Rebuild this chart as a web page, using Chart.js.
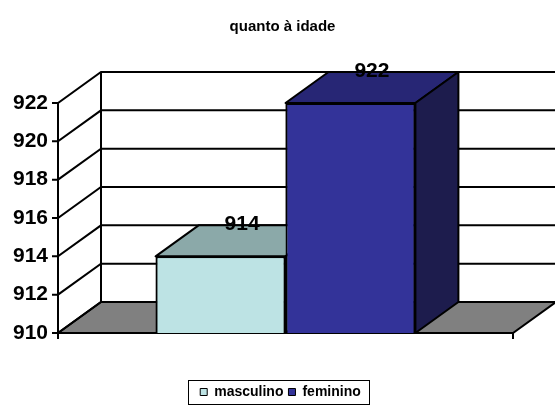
<!DOCTYPE html>
<html>
<head>
<meta charset="utf-8">
<script src="https://cdn.jsdelivr.net/npm/chart.js@4"></script>
<style>
  html, body { margin: 0; padding: 0; background: #fff; }
  #wrap { width: 555px; height: 406px; }
</style>
</head>
<body>
<div id="wrap"><canvas id="chart"></canvas></div>
<script>
// data
const categories = [""];
const seriesNames = ["masculino", "feminino"];
const masculino = [914];
const feminino = [922];
const yMin = 910, yMax = 922, yStep = 2;

// 3d look
const DX = 43, DY = -31;
const faceColors = ["#bde3e4", "#333399"];
const topColors = ["#8ba9a9", "#272675"];
const sideColors = ["#5f7b7c", "#1d1c4d"];

Chart.defaults.font.family = "'Liberation Sans', Arial, sans-serif";
Chart.defaults.color = "#000";

const box3d = {
  id: "box3d",
  afterLayout(chart) {
    // title and legend sit centred on the whole page, not on the plot
    chart.titleBlock.left += 26;
    chart.titleBlock.right += 26;
    chart.legend.left += 24;
    chart.legend.right += 24;
  },
  beforeDatasetsDraw(chart) {
    const ctx = chart.ctx;
    const { left, right, top, bottom } = chart.chartArea;
    const y = chart.scales.y;
    ctx.save();
    ctx.strokeStyle = "#000";
    ctx.lineWidth = 2;
    // floor
    ctx.beginPath();
    ctx.moveTo(left, bottom);
    ctx.lineTo(right, bottom);
    ctx.lineTo(right + DX, bottom + DY);
    ctx.lineTo(left + DX, bottom + DY);
    ctx.closePath();
    ctx.fillStyle = "#808080";
    ctx.fill();
    ctx.stroke();
    // grid on side and back wall
    for (let v = yMin; v <= yMax; v += yStep) {
      const yy = y.getPixelForValue(v);
      ctx.beginPath();
      ctx.moveTo(left - 6, yy);
      ctx.lineTo(left, yy);
      ctx.lineTo(left + DX, yy + DY);
      ctx.lineTo(right + DX, yy + DY);
      ctx.stroke();
    }
    ctx.beginPath();
    ctx.moveTo(left + DX, top + DY);
    ctx.lineTo(left + DX, bottom + DY);
    ctx.moveTo(left, top);
    ctx.lineTo(left, bottom + 6);
    ctx.moveTo(right, bottom);
    ctx.lineTo(right, bottom + 6);
    ctx.stroke();
    ctx.restore();
  },
  afterDatasetsDraw(chart) {
    const ctx = chart.ctx;
    const area = chart.chartArea;
    ctx.save();
    ctx.strokeStyle = "#000";
    ctx.lineWidth = 2;
    ctx.lineJoin = "round";
    // left to right so each bar covers the side of the one before it
    chart.data.datasets.forEach((ds, i) => {
      chart.getDatasetMeta(i).data.forEach((bar, j) => {
        const p = bar.getProps(["x", "y", "width"], true);
        const x0 = p.x - p.width / 2, x1 = p.x + p.width / 2;
        const b = area.bottom;
        // front face again
        ctx.save();
        ctx.beginPath();
        ctx.rect(area.left, area.top - 1, area.right - area.left, area.bottom - area.top + 1);
        ctx.clip();
        bar.draw(ctx);
        ctx.restore();
        // top
        ctx.beginPath();
        ctx.moveTo(x0, p.y);
        ctx.lineTo(x1, p.y);
        ctx.lineTo(x1 + DX, p.y + DY);
        ctx.lineTo(x0 + DX, p.y + DY);
        ctx.closePath();
        ctx.fillStyle = topColors[i];
        ctx.fill();
        ctx.stroke();
        // side
        ctx.beginPath();
        ctx.moveTo(x1, p.y);
        ctx.lineTo(x1 + DX, p.y + DY);
        ctx.lineTo(x1 + DX, b + DY);
        ctx.lineTo(x1, b);
        ctx.closePath();
        ctx.fillStyle = sideColors[i];
        ctx.fill();
        ctx.stroke();
        // value label
        ctx.fillStyle = "#000";
        ctx.font = "bold 21px 'Liberation Sans', Arial, sans-serif";
        ctx.textAlign = "center";
        ctx.textBaseline = "middle";
        ctx.fillText(ds.data[j], p.x + DX / 2, p.y + DY - 1);
      });
    });
    ctx.restore();
  },
  afterDraw(chart) {
    const hb = chart.legend.legendHitBoxes;
    if (!hb || !hb.length) return;
    const ctx = chart.ctx;
    const l = hb[0].left - 12;
    const r = hb[hb.length - 1].left + hb[hb.length - 1].width + 8;
    const t = hb[0].top - 5;
    const b = hb[0].top + hb[0].height + 5;
    ctx.save();
    ctx.strokeStyle = "#000";
    ctx.lineWidth = 1;
    ctx.strokeRect(Math.round(l) + 0.5, Math.round(t) + 0.5, Math.round(r - l), Math.round(b - t));
    ctx.restore();
  }
};

new Chart(document.getElementById("chart"), {
  type: "bar",
  data: {
    labels: categories,
    datasets: [
      { label: seriesNames[0], data: masculino, backgroundColor: faceColors[0], borderColor: "#000", borderWidth: 2 },
      { label: seriesNames[1], data: feminino, backgroundColor: faceColors[1], borderColor: "#000", borderWidth: 2 }
    ]
  },
  plugins: [box3d],
  options: {
    responsive: true,
    maintainAspectRatio: false,
    animation: false,
    layout: { padding: { left: 0, right: 42, top: 0, bottom: -3 } },
    datasets: { bar: { barPercentage: 1, categoryPercentage: 0.571 } },
    plugins: {
      tooltip: { enabled: false },
      title: {
        display: true,
        text: "quanto à idade",
        font: { size: 15, weight: "bold" },
        padding: { top: 18, bottom: 67 }
      },
      legend: {
        position: "bottom",
        labels: {
          boxWidth: 7,
          boxHeight: 7,
          padding: 5,
          font: { size: 14, weight: "bold" },
          generateLabels(chart) {
            const items = Chart.defaults.plugins.legend.labels.generateLabels(chart);
            items.forEach(it => { it.lineWidth = 1; it.strokeStyle = "#000"; });
            return items;
          }
        }
      }
    },
    scales: {
      x: {
        display: true,
        grid: { display: false },
        border: { display: false },
        ticks: { display: false },
        afterFit(s) { s.height = 47; }
      },
      y: {
        min: yMin,
        max: yMax,
        grid: { display: false, drawTicks: false },
        border: { display: false },
        ticks: { stepSize: yStep, padding: 10, font: { size: 21, weight: "bold" } },
        afterFit(s) { s.width = 58; }
      }
    }
  }
});
</script>
</body>
</html>
